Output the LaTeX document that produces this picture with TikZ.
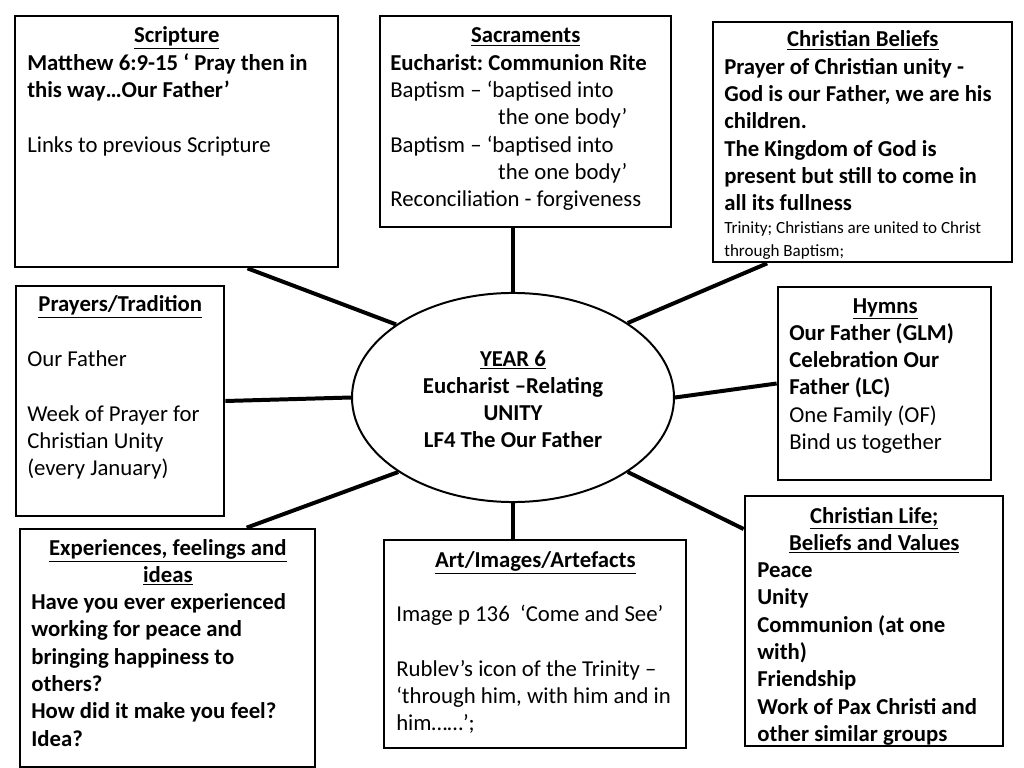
\documentclass[tikz,border=0pt]{standalone}
\usepackage{fontspec}
\setmainfont{Carlito}
\usetikzlibrary{shapes.geometric,calc,fit}
\frenchspacing
\begin{document}
\begin{tikzpicture}[x=0.703125pt,y=-0.703125pt,
  box/.style={draw,line width=1.9pt,rectangle,inner sep=0pt},
  txt/.style={anchor=base west,inner sep=0pt,text width=#1,align=flush left,font=\fontsize{16}{19.2}\selectfont},
  link/.style={line width=2.8pt}]
\useasboundingbox (0,0) rectangle (1024,768);

% boxes
\node[box,fit={(15,16)(338,267)}] (scr) {};
\node[box,fit={(380,16)(671,227)}] (sac) {};
\node[box,fit={(713,22)(1012,262)}] (bel) {};
\node[box,fit={(16,286)(224,516)}] (pra) {};
\node[box,fit={(778,287)(991,480)}] (hym) {};
\node[box,fit={(20,529)(315,767)}] (exp) {};
\node[box,fit={(384,540)(686,748)}] (art) {};
\node[box,fit={(745,496)(1003,746)}] (lif) {};
\node[draw,ellipse,line width=1.4pt,inner sep=0pt,minimum width=226.4pt,minimum height=147pt] (ell) at (513,397.5) {};

% connectors
\draw[link] ($(scr.south west)!0.718!(scr.south east)$) -- (ell.148);
\draw[link] (ell.north) -- (ell.north |- sac.south);
\draw[link] ($(bel.south west)!0.184!(bel.south east)$) -- (ell.33);
\draw[link] (pra.east) -- (ell.180);
\draw[link] (ell.0) -- (hym.west);
\draw[link] ($(exp.north west)!0.766!(exp.north east)$) -- (ell.213);
\draw[link] (ell.south) -- (ell.south |- art.north);
\draw[link] (ell.327) -- ($(lif.north west)!0.136!(lif.south west)$);

% texts
\node[txt=210.2pt] (scrt) at (27,43) {{\centering\bfseries\underline{Scripture}\par}
\textbf{Matthew 6:9-15 ‘ Pray then in}\\
\textbf{this way…Our Father’}\\[19.2pt]
Links to previous Scripture};

\node[txt=190.5pt] (sact) at (390,43) {{\centering\bfseries\underline{Sacraments}\par}
\textbf{Eucharist: Communion Rite}\\
Baptism – ‘baptised into\\
\hspace*{75.9pt}the one body’\\
Baptism – ‘baptised into\\
\hspace*{75.9pt}the one body’\\
Reconciliation - forgiveness};

\node[txt=194.8pt] (belt) at (724,47) {{\centering\bfseries\underline{Christian Beliefs}\par}
\textbf{Prayer of Christian unity -}\\
\textbf{God is our Father, we are his}\\
\textbf{children.}\\
\textbf{The Kingdom of God is}\\
\textbf{present but still to come in}\\
\textbf{all its fullness}\par
{\fontsize{12}{16.2}\selectfont Trinity; Christians are united to Christ\\
through Baptism;\par}};

\node[txt=130.8pt] (prat) at (27,312) {{\centering\bfseries\underline{Prayers/Tradition}\par}
\mbox{}\\
Our Father\\[19.2pt]
Week of Prayer for\\
Christian Unity\\
(every January)};

\node[txt=135pt] (hymt) at (789,313) {{\centering\bfseries\underline{Hymns}\par}
\textbf{Our Father (GLM)}\\
\textbf{Celebration Our}\\
\textbf{Father (LC)}\\
One Family (OF)\\
Bind us together};

\node[txt=192pt] (expt) at (31,555) {{\centering\bfseries\underline{Experiences, feelings and}\\\underline{ideas}\par}
\textbf{Have you ever experienced}\\
\textbf{working for peace and}\\
\textbf{bringing happiness to}\\
\textbf{others?}\\
\textbf{How did it make you feel?}\\
\textbf{Idea?}};

\node[txt=195.5pt] (artt) at (396,567) {{\centering\bfseries\underline{Art/Images/Artefacts}\par}
\mbox{}\\
Image p 136\ \ ‘Come and See’\\[19.2pt]
Rublev’s icon of the Trinity –\\
‘through him, with him and in\\
him……’;};

\node[txt=164.5pt] (lift) at (757,523) {{\centering\bfseries\underline{Christian Life;}\\\underline{Beliefs and Values}\par}
\textbf{Peace}\\
\textbf{Unity}\\
\textbf{Communion (at one}\\
\textbf{with)}\\
\textbf{Friendship}\\
\textbf{Work of Pax Christi and}\\
\textbf{other similar groups}};

\node[anchor=base,inner sep=0pt,text width=200pt,align=flush center,font=\fontsize{16}{19.2}\selectfont\bfseries] (ellt) at (513,366) {\underline{YEAR 6}\\
Eucharist –Relating\\
UNITY\\
LF4 The Our Father};
\end{tikzpicture}
\end{document}
